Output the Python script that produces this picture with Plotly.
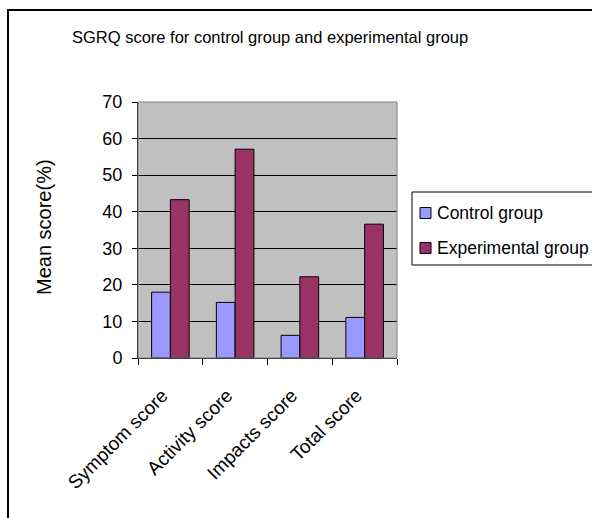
import plotly.graph_objects as go

categories = ["Symptom score", "Activity score", "Impacts score", "Total score"]
control = [18.0, 15.2, 6.2, 11.1]
experimental = [43.3, 57.1, 22.2, 36.6]
series_names = ["Control group", "Experimental group"]
series_colors = ["#9999FF", "#993366"]
y_ticks = [0, 10, 20, 30, 40, 50, 60, 70]

W, H = 592, 518
L, R, T, B = 138, 397, 102, 358
pw, ph = R - L, B - T

def px(x):
    return (x - L) / pw

def py(y):
    return (B - y) / ph

FONT = "Liberation Sans, Arial, sans-serif"

fig = go.Figure()
for name, vals, col in zip(series_names, [control, experimental], series_colors):
    fig.add_trace(go.Bar(x=categories, y=vals, name=name,
                         marker=dict(color=col, line=dict(color="black", width=1))))

shapes = [
    dict(type="rect", xref="paper", yref="paper", x0=0, x1=1, y0=0, y1=1,
         line=dict(color="#808080", width=1), layer="above"),
    dict(type="rect", xref="paper", yref="paper",
         x0=px(8), x1=px(W + 20), y0=py(10), y1=py(H + 20),
         line=dict(color="black", width=2)),
    # legend box
    dict(type="rect", xref="paper", yref="paper",
         x0=px(412), x1=px(W + 20), y0=py(192), y1=py(265),
         line=dict(color="black", width=1), fillcolor="white"),
]
annotations = [
    dict(text="SGRQ score for control group and experimental group",
         xref="paper", yref="paper", x=px(270), y=py(37),
         xanchor="center", yanchor="middle", showarrow=False,
         font=dict(size=16.5, family=FONT)),
    dict(text="Mean score(%)", xref="paper", yref="paper",
         x=px(44), y=py(227), xanchor="center", yanchor="middle",
         textangle=-90, showarrow=False,
         font=dict(size=20, family=FONT)),
]
legend_rows = [213, 248]
for name, col, yc in zip(series_names, series_colors, legend_rows):
    shapes.append(dict(type="rect", xref="paper", yref="paper",
                       x0=px(420), x1=px(431), y0=py(yc - 5.5), y1=py(yc + 5.5),
                       line=dict(color="black", width=1), fillcolor=col))
    annotations.append(dict(text=name, xref="paper", yref="paper",
                            x=px(435), y=py(yc), xanchor="left", yanchor="middle",
                            showarrow=False, font=dict(size=17.5, family=FONT)))

fig.update_layout(
    width=W, height=H,
    margin=dict(l=L, r=W - R, t=T, b=H - B, pad=0, autoexpand=False),
    paper_bgcolor="white",
    plot_bgcolor="#C0C0C0",
    barmode="group",
    bargap=0.42,
    bargroupgap=0,
    font=dict(family=FONT, color="black", size=16),
    showlegend=False,
    xaxis=dict(showline=True, linecolor="black", linewidth=1,
               ticks="outside", ticklen=6, tickcolor="black",
               tickson="boundaries", tickangle=-45,
               tickfont=dict(size=19, family=FONT),
               ticklabelstandoff=18, ticklabelshift=-8,
               showgrid=False, automargin=False),
    yaxis=dict(range=[0, 70], tickvals=y_ticks, showline=True,
               linecolor="black", linewidth=1, ticks="outside", ticklen=5,
               tickcolor="black", showgrid=True, gridcolor="black",
               gridwidth=1, tickfont=dict(size=18, family=FONT),
               ticklabelstandoff=6,
               zeroline=False, automargin=False),
    shapes=shapes,
    annotations=annotations,
)

fig.write_html("out.html", config={"displayModeBar": False},
               post_script="document.body.style.margin='0px';")
